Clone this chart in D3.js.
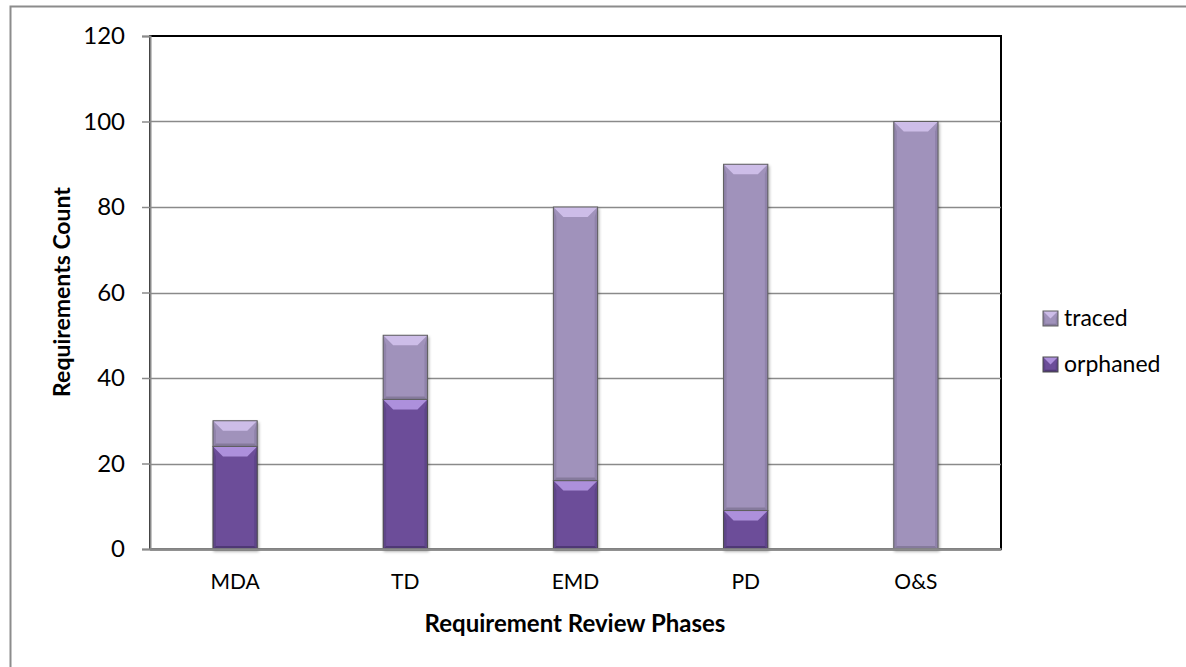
<!DOCTYPE html>
<html>
<head>
<meta charset="utf-8">
<script src="https://cdn.jsdelivr.net/npm/d3@7"></script>
<style>
  body { margin: 0; background: #fff; }
  text { font-family: Lato, "Open Sans", sans-serif; fill: #000; }
</style>
</head>
<body>
<div id="chart"></div>
<script>
// review phases and requirement counts
var phases = ['MDA', 'TD', 'EMD', 'PD', 'O&S'];
var orphaned = [24, 35, 16, 9, 0];
var traced = [6, 15, 64, 81, 100];
var yTicks = [0, 20, 40, 60, 80, 100, 120];
var seriesNames = ['traced', 'orphaned'];

var WIDTH = 1186, HEIGHT = 667;
var M = {left: 150, top: 36, right: 1001, bottom: 549};

var svg = d3.select('#chart').append('svg')
    .attr('width', WIDTH).attr('height', HEIGHT);

// chart frame
svg.append('rect').attr('x', 10.5).attr('y', 6.5)
    .attr('width', WIDTH).attr('height', HEIGHT)
    .attr('fill', 'none').attr('stroke', '#8c8c8c').attr('stroke-width', 2);

var x = d3.scaleBand().domain(phases).range([M.left, M.right]).paddingInner(0.74).paddingOuter(0.37);
var y = d3.scaleLinear().domain([0, 120]).range([M.bottom, M.top]);

// plot border (top/right black)
svg.append('rect').attr('x', M.left).attr('y', M.top)
    .attr('width', M.right - M.left).attr('height', M.bottom - M.top)
    .attr('fill', 'none').attr('stroke', '#000').attr('stroke-width', 2);

// gridlines
svg.selectAll('.grid').data(yTicks.filter(d => d > 0 && d < 120)).enter()
    .append('line')
    .attr('x1', M.left).attr('x2', M.right)
    .attr('y1', d => Math.round(y(d)) + 0.5).attr('y2', d => Math.round(y(d)) + 0.5)
    .attr('stroke', '#8a8a8a').attr('stroke-width', 1.5);

// y axis
var yAxis = svg.append('g').attr('transform', 'translate(' + M.left + ',0)')
    .call(d3.axisLeft(y).tickValues(yTicks).tickSize(8).tickPadding(17));
yAxis.select('.domain').attr('stroke', '#8a8a8a').attr('stroke-width', 2);
yAxis.selectAll('.tick line').attr('stroke', '#8a8a8a').attr('stroke-width', 1.5);
yAxis.selectAll('.tick text').attr('font-size', 24).style('font-size', '24px');

// x axis
var xAxis = svg.append('g').attr('transform', 'translate(0,' + M.bottom + ')')
    .call(d3.axisBottom(x).tickSize(0).tickPadding(25));
xAxis.select('.domain').attr('stroke', '#8a8a8a').attr('stroke-width', 2.5);
xAxis.selectAll('.tick text').attr('font-size', 21).style('font-size', '21px');

// bevel bar drawing
var palette = {
  orphaned: {main: '#6c4e99', top: '#ad90dc', side: '#5e4489', bottom: '#4f3875', edge: '#4a4a4a'},
  traced: {main: '#a092bb', top: '#cdbde8', side: '#9083aa', bottom: '#857a9c', edge: '#5e5e5e'}
};

var defs = svg.append('defs');
var f = defs.append('filter').attr('id', 'shadow').attr('x', '-20%').attr('y', '-5%').attr('width', '140%').attr('height', '110%');
f.append('feDropShadow').attr('dx', 1).attr('dy', 2).attr('stdDeviation', 1.5).attr('flood-color', '#000').attr('flood-opacity', 0.35);

function drawBar(g, x0, w, yTop, yBot, pal) {
  var h = yBot - yTop;
  if (h <= 0) return;
  var b = Math.min(10, h / 2, w / 2);
  g.append('rect').attr('x', x0).attr('y', yTop).attr('width', w).attr('height', h)
      .attr('fill', pal.main);
  // top bevel
  g.append('polygon').attr('fill', pal.top)
      .attr('points', [[x0, yTop], [x0 + w, yTop], [x0 + w - b, yTop + b], [x0 + b, yTop + b]].join(' '));
  // left/right bevels
  g.append('polygon').attr('fill', pal.side)
      .attr('points', [[x0, yTop], [x0 + b * 0.3, yTop + b], [x0 + b * 0.3, yBot - b * 0.3], [x0, yBot]].join(' '));
  g.append('polygon').attr('fill', pal.side)
      .attr('points', [[x0 + w, yTop], [x0 + w - b * 0.3, yTop + b], [x0 + w - b * 0.3, yBot - b * 0.3], [x0 + w, yBot]].join(' '));
  g.append('polygon').attr('fill', pal.bottom)
      .attr('points', [[x0, yBot], [x0 + w, yBot], [x0 + w - b * 0.3, yBot - b * 0.3], [x0 + b * 0.3, yBot - b * 0.3]].join(' '));
  g.append('rect').attr('x', x0).attr('y', yTop).attr('width', w).attr('height', h)
      .attr('fill', 'none').attr('stroke', pal.edge).attr('stroke-width', 1);
}

var bars = svg.append('g');
phases.forEach(function(p, i) {
  var g = bars.append('g').attr('filter', 'url(#shadow)');
  var x0 = x(p), w = x.bandwidth();
  drawBar(g, x0, w, y(orphaned[i]), y(0), palette.orphaned);
  drawBar(g, x0, w, y(orphaned[i] + traced[i]), y(orphaned[i]), palette.traced);
});

// redraw x axis line over bar bottoms
svg.append('line').attr('x1', M.left).attr('x2', M.right)
    .attr('y1', M.bottom + 0.5).attr('y2', M.bottom + 0.5)
    .attr('stroke', '#8a8a8a').attr('stroke-width', 2.5);

// axis titles
svg.append('text').attr('x', 575).attr('y', 632).attr('text-anchor', 'middle')
    .style('font-size', '24px').style('font-weight', 'bold').text('Requirement Review Phases');
svg.append('text').attr('transform', 'translate(70,292) rotate(-90)').attr('text-anchor', 'middle')
    .style('font-size', '23px').style('font-weight', 'bold').text('Requirements Count');

// legend
var legend = svg.append('g');
seriesNames.forEach(function(name, i) {
  var ly = 318 + i * 46;
  var lg = legend.append('g');
  drawBar(lg, 1043, 15, ly - 7, ly + 8, palette[name]);
  legend.append('text').attr('x', 1064).attr('y', ly + 8)
      .style('font-size', '23px').text(name);
});
</script>
</body>
</html>
